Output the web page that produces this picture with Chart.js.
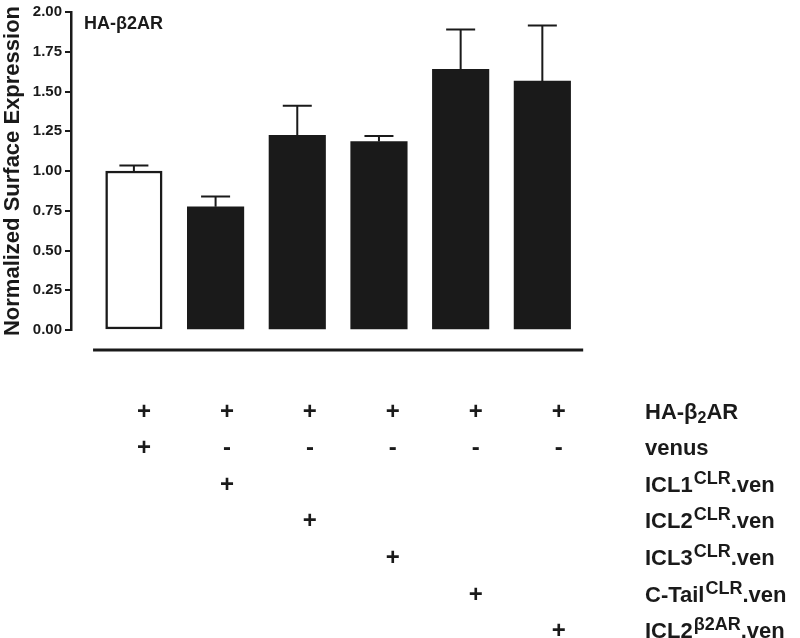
<!DOCTYPE html>
<html><head><meta charset="utf-8">
<script src="https://cdn.jsdelivr.net/npm/chart.js@4"></script>
<style>html,body{margin:0;padding:0;background:#fff}#wrap{width:800px;height:638px}</style>
</head><body><div id="wrap"><canvas id="c" width="800" height="638"></canvas></div>
<script>
// ---- data ----
const categories = ["venus", "ICL1CLR.ven", "ICL2CLR.ven", "ICL3CLR.ven", "C-TailCLR.ven", "ICL2β2AR.ven"];
const means = [1.00, 0.775, 1.225, 1.185, 1.64, 1.565];
const sem = [0.035, 0.065, 0.185, 0.035, 0.25, 0.35];
const yTickValues = [0, 0.25, 0.5, 0.75, 1.0, 1.25, 1.5, 1.75, 2.0];
const chartLabel = "HA-β2AR";
const yTitle = "Normalized Surface Expression";
// row labels: [text, style] with style '' | 'sup' | 'sub'
const rowLabels = [
  [["HA-β", ""], ["2", "sub"], ["AR", ""]],
  [["venus", ""]],
  [["ICL1", ""], ["CLR", "sup"], [".ven", ""]],
  [["ICL2", ""], ["CLR", "sup"], [".ven", ""]],
  [["ICL3", ""], ["CLR", "sup"], [".ven", ""]],
  [["C-Tail", ""], ["CLR", "sup"], [".ven", ""]],
  [["ICL2", ""], ["β2AR", "sup"], [".ven", ""]]
];
const tableMarks = [
  ["+", "+", "+", "+", "+", "+"],
  ["+", "-", "-", "-", "-", "-"],
  ["", "+", "", "", "", ""],
  ["", "", "+", "", "", ""],
  ["", "", "", "+", "", ""],
  ["", "", "", "", "+", ""],
  ["", "", "", "", "", "+"]
];

const INK = '#1a1a1a';
const FAM = "'Liberation Sans', Arial, Helvetica, sans-serif";
Chart.defaults.font.family = FAM;

const extras = {
  id: 'extras',
  afterDatasetsDraw(chart) {
    const ctx = chart.ctx;
    const xs = chart.scales.x, ys = chart.scales.y;
    ctx.save();
    ctx.strokeStyle = INK;
    ctx.fillStyle = INK;
    // error bars
    ctx.lineWidth = 2;
    means.forEach((m, i) => {
      const x = xs.getPixelForValue(i);
      const yb = ys.getPixelForValue(m);
      const yt = ys.getPixelForValue(m + sem[i]);
      ctx.beginPath();
      ctx.moveTo(x, yb); ctx.lineTo(x, yt);
      ctx.moveTo(x - 14.5, yt); ctx.lineTo(x + 14.5, yt);
      ctx.stroke();
    });
    // bottom baseline line
    ctx.lineWidth = 3;
    const yl = ys.getPixelForValue(0) + 20;
    ctx.beginPath();
    ctx.moveTo(xs.getPixelForValue(-0.5), yl);
    ctx.lineTo(xs.getPixelForValue(categories.length - 0.5), yl);
    ctx.stroke();
    // top-left label
    ctx.font = "bold 18px " + FAM;
    ctx.textAlign = 'left';
    ctx.textBaseline = 'alphabetic';
    ctx.fillText(chartLabel, chart.chartArea.left + 13, 28.5);
    // table marks
    ctx.font = "bold 24px " + FAM;
    ctx.textAlign = 'center';
    tableMarks.forEach((row, r) => {
      const by = 418.5 + 36.6 * r;
      row.forEach((mk, i) => {
        if (!mk) return;
        const x = xs.getPixelForValue(i) + 10 + 1.3 * i;
        ctx.fillText(mk, x, by);
      });
    });
    // row labels
    ctx.textAlign = 'left';
    rowLabels.forEach((parts, r) => {
      const by = 418.5 + 36.6 * r;
      let x = 645;
      parts.forEach(([t, s]) => {
        let dy = 0;
        if (s === 'sup') { ctx.font = "bold 18px " + FAM; dy = -8; x += 1; }
        else if (s === 'sub') { ctx.font = "bold 16px " + FAM; dy = 4; }
        else { ctx.font = "bold 22px " + FAM; }
        ctx.fillText(t, x, by + dy);
        x += ctx.measureText(t).width;
      });
    });
    ctx.restore();
  }
};

new Chart(document.getElementById('c'), {
  type: 'bar',
  data: {
    datasets: [{
      data: means.map((m, i) => ({ x: i, y: m })),
      backgroundColor: means.map((m, i) => i === 0 ? '#ffffff' : INK),
      borderColor: INK,
      borderWidth: means.map((m, i) => i === 0 ? 2.5 : 0),
      borderSkipped: false,
      barThickness: 56.5
    }]
  },
  options: {
    responsive: false,
    animation: false,
    devicePixelRatio: 1,
    layout: { padding: { top: 10, right: 216, bottom: 308, left: 0 } },
    plugins: { legend: { display: false }, tooltip: { enabled: false } },
    scales: {
      x: { type: 'linear', offset: false, grid: { offset: false }, min: -0.77, max: 5.51, display: false },
      y: {
        min: 0, max: 2,
        afterBuildTicks: s => { s.ticks = yTickValues.map(v => ({ value: v })); },
        afterFit: s => { s.width = 71; },
        ticks: {
          autoSkip: false, padding: 3, color: INK,
          font: { size: 15, weight: 'bold' },
          callback: v => Number(v).toFixed(2)
        },
        grid: { drawOnChartArea: false, drawTicks: true, tickLength: 6, color: INK, lineWidth: 2 },
        border: { display: true, color: INK, width: 2.5 },
        title: { display: true, text: yTitle, color: INK, font: { size: 22, weight: 'bold' }, padding: 0 }
      }
    }
  },
  plugins: [extras]
});
</script></body></html>
